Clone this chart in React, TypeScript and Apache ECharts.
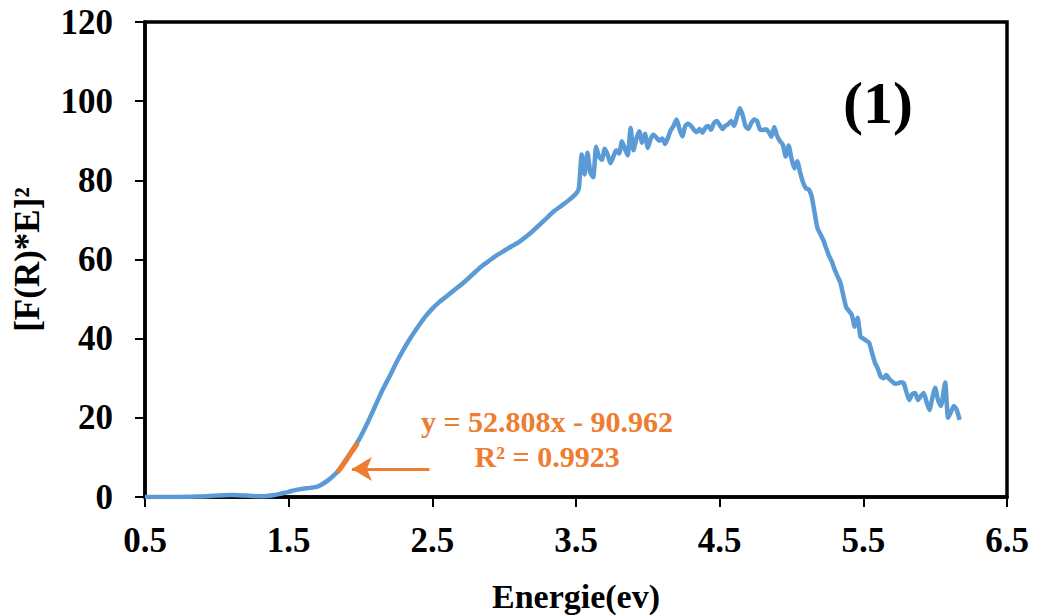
import React, { useEffect, useRef } from "react";
import * as echarts from "echarts";

const energy: number[] = [
  0.5, 0.55, 0.6, 0.65, 0.7, 0.75, 0.8, 0.85, 0.9, 0.95, 1.0, 1.05, 1.1, 1.15, 1.2, 1.25, 1.3, 1.35, 1.4, 1.45,
  1.5, 1.55, 1.6, 1.65, 1.7, 1.75, 1.8, 1.85, 1.9, 1.95, 2.0, 2.05, 2.1, 2.15, 2.2, 2.25, 2.3, 2.35, 2.4, 2.45,
  2.5, 2.55, 2.6, 2.65, 2.7, 2.75, 2.8, 2.85, 2.9, 2.95, 3.0, 3.05, 3.1, 3.15, 3.2, 3.25, 3.3, 3.35, 3.4, 3.45,
  3.5, 3.52, 3.54, 3.56, 3.58, 3.6, 3.62, 3.64, 3.66, 3.68, 3.7, 3.72, 3.74, 3.76, 3.78, 3.8, 3.82, 3.84, 3.86, 3.88,
  3.9, 3.92, 3.94, 3.96, 3.98, 4.0, 4.02, 4.04, 4.06, 4.08, 4.1, 4.12, 4.14, 4.16, 4.18, 4.2, 4.22, 4.24, 4.26, 4.28,
  4.3, 4.32, 4.34, 4.36, 4.38, 4.4, 4.42, 4.44, 4.46, 4.48, 4.5, 4.52, 4.54, 4.56, 4.58, 4.6, 4.62, 4.64, 4.66, 4.68,
  4.7, 4.72, 4.74, 4.76, 4.78, 4.8, 4.82, 4.84, 4.86, 4.88, 4.9, 4.92, 4.94, 4.96, 4.98, 5.0, 5.02, 5.04, 5.06, 5.08,
  5.1, 5.12, 5.14, 5.16, 5.18, 5.2, 5.22, 5.24, 5.26, 5.28, 5.3, 5.32, 5.34, 5.36, 5.38, 5.4, 5.42, 5.44, 5.46, 5.48,
  5.5, 5.52, 5.54, 5.56, 5.58, 5.6, 5.62, 5.64, 5.66, 5.68, 5.7, 5.72, 5.74, 5.76, 5.78, 5.8, 5.82, 5.84, 5.86, 5.88,
  5.9, 5.92, 5.94, 5.96, 5.98, 6.0, 6.02, 6.04, 6.06, 6.07, 6.09, 6.11, 6.13, 6.15, 6.17,
];

const absorbance: number[] = [
  0.0, 0.0, 0.0, 0.0, 0.0, 0.0, 0.05, 0.1, 0.15, 0.25, 0.35, 0.45, 0.5, 0.45, 0.35, 0.25, 0.2, 0.25, 0.5, 0.9,
  1.3, 1.8, 2.1, 2.3, 2.6, 3.6, 5.0, 6.8, 9.5, 12.2, 15.2, 18.8, 22.8, 26.8, 30.3, 34.0, 37.3, 40.3, 43.0, 45.5,
  47.6, 49.3, 50.7, 52.2, 53.6, 55.2, 56.9, 58.5, 59.8, 61.1, 62.2, 63.3, 64.3, 65.7, 67.2, 68.9, 70.6, 72.3, 73.6, 75.0,
  76.6, 78.0, 86.5, 81.5, 87.0, 82.0, 80.8, 88.5, 86.0, 85.2, 88.0, 86.5, 84.3, 86.0, 87.6, 86.8, 89.9, 88.0, 86.3, 93.2,
  87.6, 90.5, 92.4, 89.5, 91.8, 88.2, 90.5, 91.5, 90.8, 90.0, 90.6, 89.2, 90.8, 92.7, 93.8, 95.4, 93.0, 91.1, 93.7, 94.3,
  93.8, 92.8, 92.2, 93.0, 92.0, 93.3, 93.7, 92.8, 94.5, 95.0, 94.0, 93.0, 93.8, 94.2, 95.0, 93.7, 96.0, 98.2, 96.5, 93.7,
  93.0, 94.5, 95.4, 95.0, 92.9, 92.7, 92.9, 92.3, 91.0, 93.5, 91.2, 89.9, 89.0, 86.0, 88.8, 85.5, 83.0, 84.8, 82.0, 79.5,
  78.0, 77.7, 76.0, 72.0, 68.0, 66.5, 65.0, 63.0, 61.0, 59.5, 57.5, 55.8, 54.2, 51.0, 48.0, 47.0, 46.0, 43.0, 45.3, 40.5,
  40.0, 39.5, 39.0, 36.5, 34.0, 32.5, 30.5, 30.0, 30.8, 29.8, 29.2, 28.6, 28.7, 29.0, 28.8, 26.5, 24.5, 26.0, 26.3, 24.5,
  25.5, 26.3, 24.0, 22.0, 25.0, 27.6, 24.5, 23.0, 27.0, 28.9, 20.0, 21.5, 23.0, 22.0, 19.5,
];

const fitEnergy: number[] = [1.84, 1.88, 1.92, 1.95, 1.98];
const fitValues: number[] = [6.3, 8.2, 10.4, 12.0, 13.6];

const arrowFrom: number[] = [2.48, 7.1];
const arrowTo: number[] = [1.94, 7.1];

const xTicks: number[] = [0.5, 1.5, 2.5, 3.5, 4.5, 5.5, 6.5];

const FONT = "'Liberation Serif', 'Times New Roman', serif";
const BLUE = "#5B9BD5";
const ORANGE = "#ED7D31";

export default function App() {
  const ref = useRef<HTMLDivElement>(null);

  useEffect(() => {
    if (!ref.current) return;
    const chart = echarts.init(ref.current, null, { renderer: "svg" });
    const mainData = energy.map((e, i) => [e, absorbance[i]]);
    const fitData = fitEnergy.map((e, i) => [e, fitValues[i]]);

    chart.setOption({
      animation: false,
      backgroundColor: "#fff",
      grid: {
        left: 145,
        right: 34,
        top: 22,
        bottom: 118,
        outerBoundsMode: "none",
        containLabel: false,
        show: true,
        borderColor: "#000",
        borderWidth: 3.5,
        backgroundColor: "transparent",
      },
      xAxis: {
        type: "value",
        min: 0.5,
        max: 6.5,
        name: "Energie(ev)",
        nameLocation: "middle",
        nameGap: 82,
        nameTextStyle: { fontFamily: FONT, fontWeight: "bold", fontSize: 34, color: "#000" },
        axisLine: { show: true, lineStyle: { color: "#000", width: 3.5 } },
        axisTick: { show: true, length: 10, lineStyle: { color: "#000", width: 2 }, customValues: xTicks },
        axisLabel: {
          customValues: xTicks,
          margin: 26,
          fontFamily: FONT,
          fontWeight: "bold",
          fontSize: 35,
          color: "#000",
          formatter: (v: number) => v.toFixed(1),
        },
        splitLine: { show: false },
      },
      yAxis: {
        type: "value",
        min: 0,
        max: 120,
        interval: 20,
        name: "[F(R)*E]²",
        nameLocation: "middle",
        nameGap: 100,
        nameTextStyle: { fontFamily: FONT, fontWeight: "bold", fontSize: 35, color: "#000" },
        axisLine: { show: true, lineStyle: { color: "#000", width: 3.5 } },
        axisTick: { show: true, length: 10, lineStyle: { color: "#000", width: 2 } },
        axisLabel: { margin: 32, fontFamily: FONT, fontWeight: "bold", fontSize: 35, color: "#000" },
        splitLine: { show: false },
      },
      series: [
        {
          type: "line",
          data: mainData,
          showSymbol: false,
          smooth: 0.2,
          lineStyle: { color: BLUE, width: 4.5 },
          itemStyle: { color: BLUE },
          z: 2,
        },
        {
          type: "line",
          data: fitData,
          showSymbol: false,
          smooth: true,
          lineStyle: { color: ORANGE, width: 5 },
          itemStyle: { color: ORANGE },
          z: 3,
          markLine: {
            silent: true,
            symbol: ["none", "arrow"],
            symbolSize: [18, 20],
            label: { show: false },
            lineStyle: { color: ORANGE, width: 3, type: "solid" },
            data: [[{ coord: arrowFrom }, { coord: arrowTo }]],
          },
        },
      ],
      graphic: [
        {
          type: "text",
          x: 547,
          y: 421,
          style: {
            text: "y = 52.808x - 90.962",
            font: `bold 30px ${FONT}`,
            fill: ORANGE,
            align: "center",
            verticalAlign: "middle",
          },
        },
        {
          type: "text",
          x: 547,
          y: 456,
          style: {
            text: "R² = 0.9923",
            font: `bold 30px ${FONT}`,
            fill: ORANGE,
            align: "center",
            verticalAlign: "middle",
          },
        },
        {
          type: "text",
          x: 878,
          y: 103,
          style: {
            text: "(1)",
            font: `bold 60px ${FONT}`,
            fill: "#000",
            align: "center",
            verticalAlign: "middle",
          },
        },
      ],
    });

    return () => chart.dispose();
  }, []);

  return (
    <div
      ref={ref}
      style={{ position: "fixed", left: 0, top: 0, width: 1041, height: 615, background: "#fff" }}
    />
  );
}
